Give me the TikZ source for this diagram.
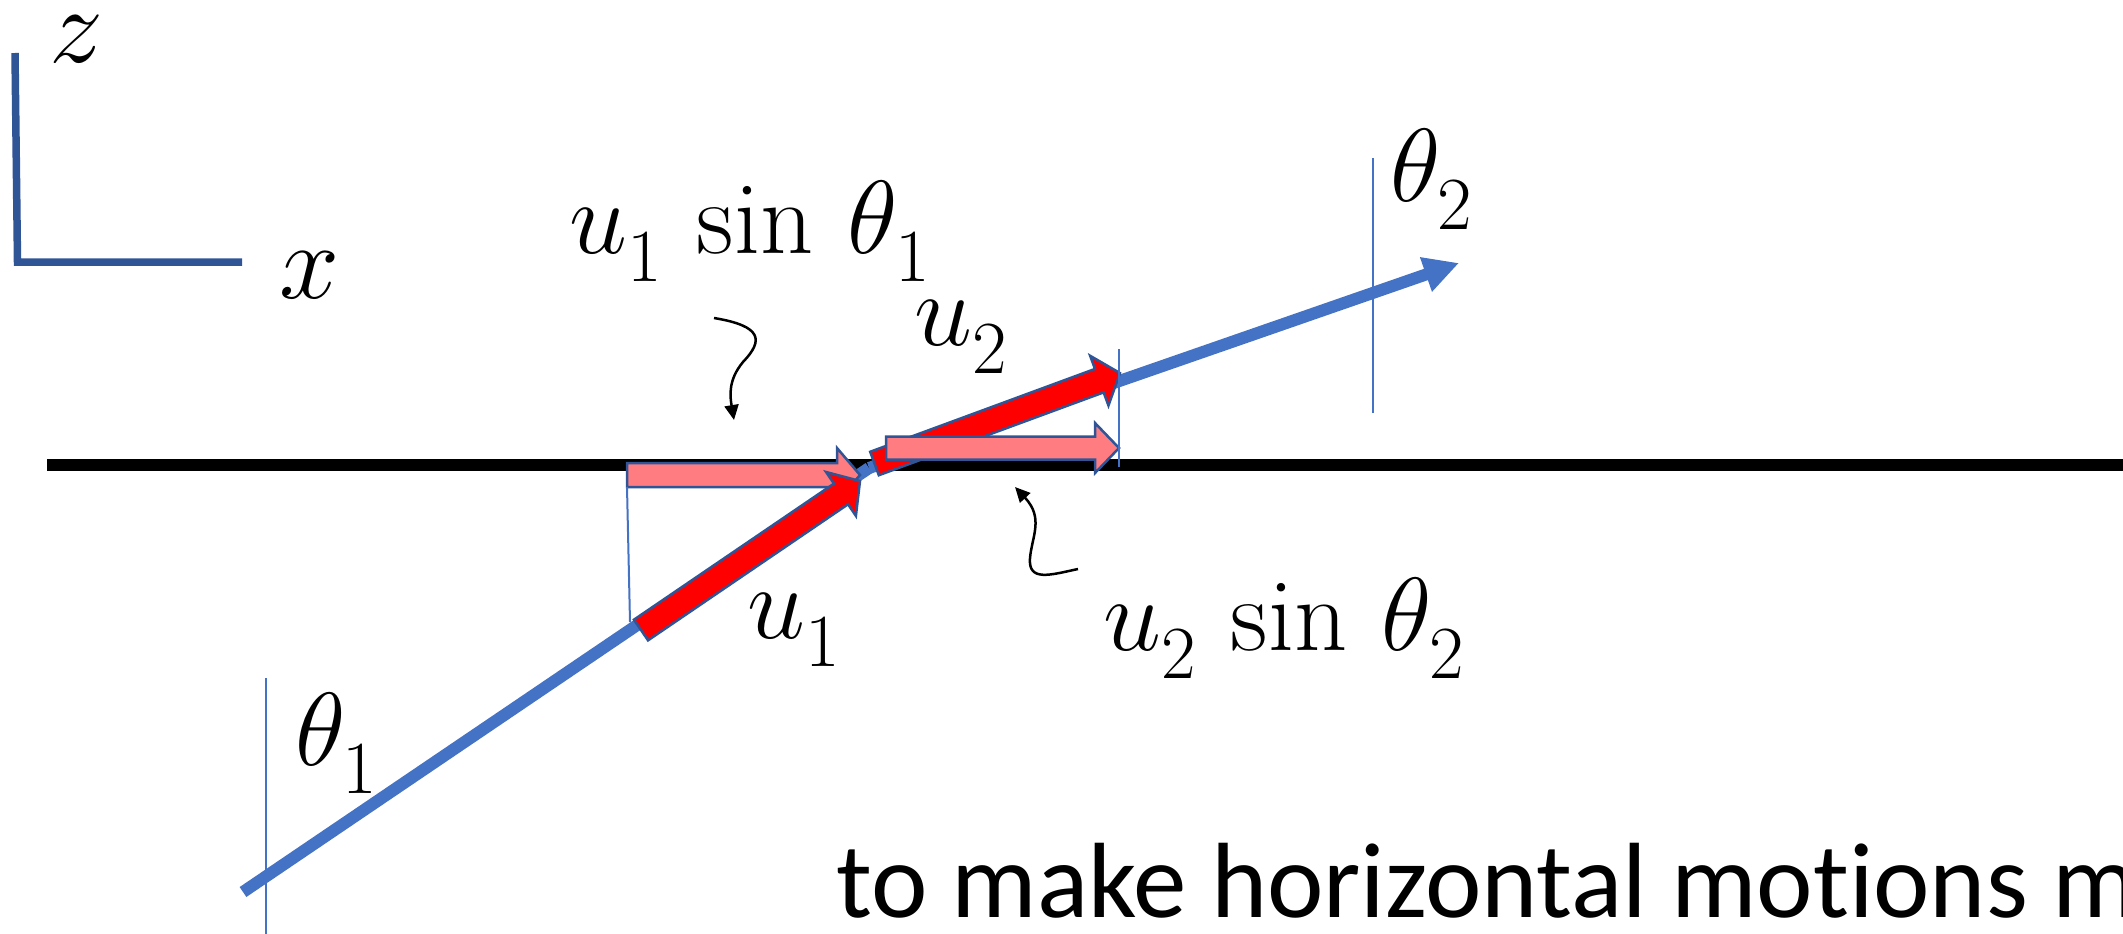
\RequirePackage{fix-cm}
\documentclass[tikz,border=0pt]{standalone}
\usepackage{fontspec}
\newfontfamily\calib{Carlito}[Ligatures=NoCommon]
\usetikzlibrary{arrows.meta}
\DeclareMathSizes{104}{104}{75}{58}
\DeclareMathSizes{108}{108}{78}{60}
\definecolor{rayblue}{HTML}{4472C4}
\definecolor{axblue}{HTML}{2F5597}
\definecolor{pinkfill}{HTML}{FF7C80}
\newcommand{\lsub}[1]{_{\lower12.5pt\hbox{$\scriptstyle #1$}}}
\tikzset{
  ray/.style={rayblue, line width=12pt, line join=round},
  thinline/.style={rayblue, line width=2pt},
  redarr/.style={fill=red, draw=axblue, line width=2.5pt, line join=miter},
  pinkarr/.style={fill=pinkfill, draw=axblue, line width=2.5pt, line join=miter},
  curly/.style={black, line width=2.5pt, -{Triangle[length=15pt,width=14pt]}},
  axisline/.style={axblue, line width=7.5pt, line join=miter},
  lbl/.style={inner sep=0pt, font=\fontsize{104}{114}\selectfont},
  biglbl/.style={inner sep=0pt, font=\fontsize{108}{118}\selectfont},
}
\begin{document}
\begin{tikzpicture}[x=1pt,y=-1pt]
\useasboundingbox (0,0) rectangle (2123,934);
\clip (0,0) rectangle (2123,934);
% key points
\coordinate (S) at (243,892);
\coordinate (J) at (869,468);
\coordinate (E) at (1459,263);
\coordinate (T1) at (641,630);
\coordinate (T2) at (874.5,463.5);
\coordinate (IL) at (47,464.5);
\coordinate (IR) at (2123,464.5);
% interface
\draw[black, line width=12pt] (IL) -- (IR);
% rays
\draw[ray] (S) -- (J);
\draw[ray, -{Triangle[length=35pt,width=34pt]}] (J) -- (E);
% u2 red arrow
\begin{scope}[shift={(T2)}, rotate=20.23]
  \draw[redarr] (0,12.5) -- (239.6,12.5) -- (239.6,26.5) -- (261.6,0) -- (239.6,-26.5) -- (239.6,-12.5) -- (0,-12.5) -- cycle;
\end{scope}
% right pink box (u2 sin theta2)
\draw[pinkarr] (886,436.5) -- (1095,436.5) -- (1095,423) -- (1119,448) -- (1095,473) -- (1095,459.5) -- (886,459.5) -- cycle;
% left pink box (u1 sin theta1)
\draw[pinkarr] (627,463) -- (837,463) -- (837,448) -- (860,475) -- (837,502) -- (837,487) -- (627,487) -- cycle;
% u1 red arrow
\begin{scope}[shift={(T1)}, rotate=34.23]
  \draw[redarr] (0,12.5) -- (241.9,12.5) -- (241.9,26.5) -- (264.9,0) -- (241.9,-26.5) -- (241.9,-12.5) -- (0,-12.5) -- cycle;
\end{scope}
% thin construction lines
\coordinate (n1a) at (266,678); \coordinate (n1b) at (266,934);
\coordinate (n2a) at (1373,158); \coordinate (n2b) at (1373,413);
\coordinate (n3a) at (1119,349); \coordinate (n3b) at (1119,467);
\coordinate (n4a) at (627,487); \coordinate (n4b) at (630,622);
\draw[thinline] (n1a) -- (n1b);
\draw[thinline] (n2a) -- (n2b);
\draw[thinline] (n3a) -- (n3b);
\draw[thinline] (n4a) -- (n4b);
% curly pointers
\coordinate (c1s) at (714,318); \coordinate (c1e) at (734,420);
\coordinate (c2s) at (1078,569); \coordinate (c2e) at (1015,487);
\draw[curly] (c1s) .. controls (762,326) and (764,340) .. (743,362) .. controls (728,380) and (730,396) .. (c1e);
\draw[curly] (c2s) .. controls (1050,575) and (1028,582) .. (1030,558) .. controls (1032,536) and (1044,518) .. (c2e);
% axes
\coordinate (ax1) at (15,53); \coordinate (ax0) at (17.5,262); \coordinate (ax2) at (242,262);
\draw[axisline] (ax1) -- (ax0) -- (ax2);
% labels
\node[biglbl, anchor=base west] (zl) at (49,63) {$z$};
\node[biglbl, anchor=base west] (xl) at (279,298) {$x$};
\node[lbl, anchor=base west] (l1) at (569,253) {$u\lsub{1}\,\sin\,\theta\lsub{1}$};
\node[lbl, anchor=base west] (l2) at (914,345) {$u\lsub{2}$};
\node[lbl, anchor=base west] (l3) at (747,638) {$u\lsub{1}$};
\node[lbl, anchor=base west] (l4) at (1103,650) {$u\lsub{2}\,\sin\,\theta\lsub{2}$};
\node[lbl, anchor=base west] (l5) at (295,765) {$\theta\lsub{1}$};
\node[lbl, anchor=base west] (l6) at (1390,201) {$\theta\lsub{2}$};
\node[inner sep=0pt, anchor=base west, font=\calib\fontsize{107}{120}\selectfont] (bt) at (836,917) {to make horizontal motions m};
\end{tikzpicture}
\end{document}
